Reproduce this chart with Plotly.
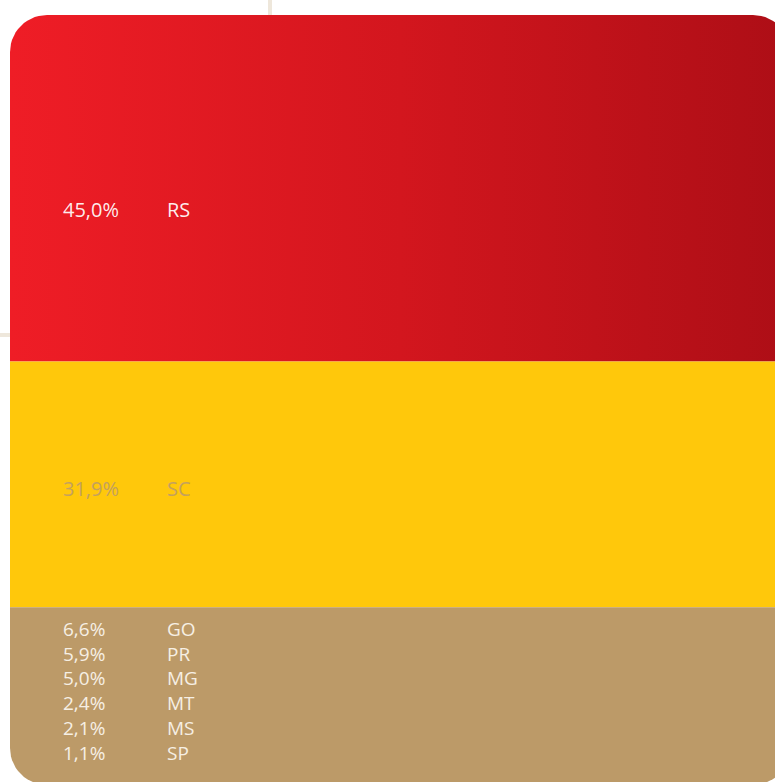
import math
import plotly.graph_objects as go

# ---- data ----
states_main = ["RS", "SC"]
shares_main = [45.0, 31.9]
states_other = ["GO", "PR", "MG", "MT", "MS", "SP"]
shares_other = [6.6, 5.9, 5.0, 2.4, 2.1, 1.1]

def fmt(v):
    return f"{v:.1f}%".replace(".", ",")

# ---- layout constants (pixels) ----
W, H = 775, 782
TOP_PX = 15          # panel top
S = 7.7              # px per percentage point
PX0, PX1 = 10, 790   # panel left/right in px units
R = 37               # corner radius px
X_PCT, X_CODE = 62, 166

bands = [
    dict(vals=shares_main[0], fill=dict(type="horizontal",
         colorscale=[[0, "#EF1D26"], [0.5, "#D3161E"], [1, "#AD0E16"]]),
         color=None, rt=True, rb=False),
    dict(vals=shares_main[1], fill=None, color="#FFC80B", rt=False, rb=False),
    dict(vals=sum(shares_other), fill=None, color="#BC9A68", rt=False, rb=True),
]

ry = R / S
rx = R

def arc(cx, cy, a0, a1, n=14):
    pts = []
    for i in range(n + 1):
        a = a0 + (a1 - a0) * i / n
        pts.append((cx + rx * math.cos(a), cy + ry * math.sin(a)))
    return pts

def band_path(y0, y1, rt, rb):
    pts = []
    if rt:
        pts += arc(PX0 + rx, y0 + ry, math.pi, 1.5 * math.pi)
        pts += arc(PX1 - rx, y0 + ry, 1.5 * math.pi, 2 * math.pi)
    else:
        pts += [(PX0, y0), (PX1, y0)]
    if rb:
        pts += arc(PX1 - rx, y1 - ry, 0, 0.5 * math.pi)
        pts += arc(PX0 + rx, y1 - ry, 0.5 * math.pi, math.pi)
    else:
        pts += [(PX1, y1), (PX0, y1)]
    pts.append(pts[0])
    return [p[0] for p in pts], [p[1] for p in pts]

fig = go.Figure()
cum = 0.0
band_edges = []
for b in bands:
    y0, y1 = cum, cum + b["vals"]
    band_edges.append((y0, y1))
    xs, ys = band_path(y0, y1, b["rt"], b["rb"])
    kw = dict(x=xs, y=ys, mode="lines", fill="toself", line=dict(width=0),
              hoverinfo="skip", showlegend=False)
    if b["fill"] is not None:
        kw["fillgradient"] = b["fill"]
    else:
        kw["fillcolor"] = b["color"]
    fig.add_trace(go.Scatter(**kw))
    cum = y1

font_family = "Open Sans"
fs_main = 20
fs_list = 19
text_colors = ["rgba(255,250,250,0.95)", "#C4A15E"]
label_shift = [-21, -4]

ann = []
for i, (st, v) in enumerate(zip(states_main, shares_main)):
    y0, y1 = band_edges[i]
    ym = (y0 + y1) / 2
    for xp, txt in ((X_PCT, fmt(v)), (X_CODE, st)):
        ann.append(dict(x=xp, y=ym, xref="x", yref="y", text=txt,
                        showarrow=False, xanchor="left", yanchor="middle",
                        yshift=label_shift[i], borderpad=0,
                        font=dict(family=font_family, size=fs_main, color=text_colors[i])))

y0t = band_edges[2][0]
for xp, lines in ((X_PCT, [fmt(v) for v in shares_other]), (X_CODE, states_other)):
    ann.append(dict(x=xp, y=y0t, xref="x", yref="y", text="<br>".join(lines),
                    showarrow=False, xanchor="left", yanchor="top", align="left",
                    yshift=-8, borderpad=0,
                    font=dict(family=font_family, size=fs_list, color="#F6EFE4")))

fig.update_layout(
    width=W, height=H,
    margin=dict(l=0, r=0, t=0, b=0),
    paper_bgcolor="white", plot_bgcolor="white",
    xaxis=dict(range=[0, W], visible=False, fixedrange=True),
    yaxis=dict(range=[(H - TOP_PX) / S, -TOP_PX / S], visible=False, fixedrange=True),
    annotations=ann,
    shapes=[
        dict(type="line", xref="x", yref="paper", x0=270, x1=270, y0=1, y1=0.97,
             line=dict(color="#EEE7DB", width=4), layer="below"),
        dict(type="line", xref="x", yref="y", x0=0, x1=PX0,
             y0=(335 - TOP_PX) / S, y1=(335 - TOP_PX) / S,
             line=dict(color="#EEE7DB", width=4), layer="below"),
    ],
    showlegend=False,
)

fig.write_html(
    "out.html",
    config={"displayModeBar": False},
    post_script="document.body.style.margin='0';document.body.style.overflow='hidden';",
)
